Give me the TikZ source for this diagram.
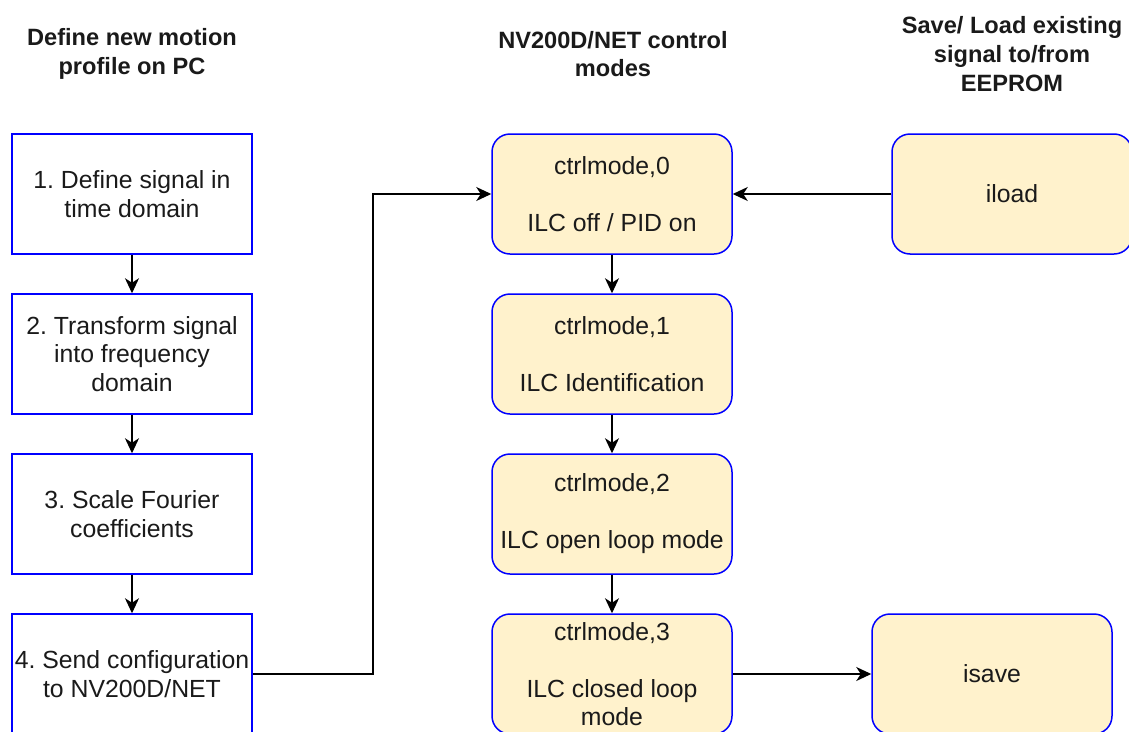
\documentclass[tikz,border=0pt]{standalone}
\usepackage{fontspec}
\setmainfont{Liberation Sans}
\usetikzlibrary{arrows.meta}
\definecolor{boxblue}{HTML}{0000FF}
\definecolor{boxfill}{HTML}{FFF2CC}
\definecolor{txtcol}{HTML}{1A1A1A}
\frenchspacing
\begin{document}
\begin{tikzpicture}[x=1pt,y=-1pt,
  txt/.style={font=\fontsize{24.8}{28.5}\selectfont, align=center, text=txtcol},
  stepbox/.style={txt, draw=boxblue, line width=1.5pt, minimum width=240pt, minimum height=120pt, inner sep=0pt, fill=white},
  modebox/.style={stepbox, fill=boxfill, rounded corners=18pt},
  head/.style={align=center, text=txtcol, font=\fontsize{23.6}{28.8}\selectfont\bfseries},
  arr/.style={draw=black, line width=1.6pt, -{Stealth[length=15pt,width=14pt,inset=4.5pt]}}
]
\useasboundingbox (0,0) rectangle (1129,731);
\clip (0,0) rectangle (1129,731);
\fill[white] (0,0) rectangle (1129,731);

% headers
\node[head] (h1) at (132,54) {Define new motion\\profile on PC};
\node[head] (h2) at (613,54) {NV200D/NET control\\modes};
\node[head] (h3) at (1012,54) {Save/ Load existing\\signal to/from\\EEPROM};

% left column
\node[stepbox] (s1) at (132,194) {1. Define signal in\\time domain};
\node[stepbox] (s2) at (132,354) {2. Transform signal\\into frequency\\domain};
\node[stepbox] (s3) at (132,514) {3. Scale Fourier\\coefficients};
\node[stepbox] (s4) at (132,674) {4. Send configuration\\to NV200D/NET};

% middle column
\node[modebox] (m0) at (612,194) {ctrlmode,0\\[28.5pt]ILC off / PID on};
\node[modebox] (m1) at (612,354) {ctrlmode,1\\[28.5pt]ILC Identification};
\node[modebox] (m2) at (612,514) {ctrlmode,2\\[28.5pt]ILC open loop mode};
\node[modebox] (m3) at (612,674) {ctrlmode,3\\[28.5pt]ILC closed loop\\mode};

% right column
\node[modebox] (iload) at (1012,194) {iload};
\node[modebox] (isave) at (992,674) {isave};

% connectors
\draw[arr] (s1.south) -- (s2.north);
\draw[arr] (s2.south) -- (s3.north);
\draw[arr] (s3.south) -- (s4.north);
\coordinate (bend) at (373,674);
\draw[arr] (s4.east) -- (bend) |- (m0.west);
\draw[arr] (m0.south) -- (m1.north);
\draw[arr] (m1.south) -- (m2.north);
\draw[arr] (m2.south) -- (m3.north);
\draw[arr] (iload.west) -- (m0.east);
\draw[arr] (m3.east) -- (isave.west);
\end{tikzpicture}
\end{document}
